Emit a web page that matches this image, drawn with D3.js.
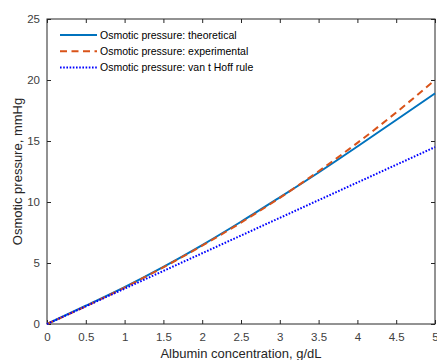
<!DOCTYPE html>
<html>
<head>
<meta charset="utf-8">
<script src="https://cdn.jsdelivr.net/npm/d3@7"></script>
<style>
  body { margin: 0; background: #fff; }
  text { font-family: "Liberation Sans", Arial, sans-serif; }
</style>
</head>
<body>
<div id="chart"></div>
<script>
// albumin concentration, g/dL
const conc = [0, 0.5, 1, 1.5, 2, 2.5, 3, 3.5, 4, 4.5, 5];
// osmotic pressure, mmHg
const theoretical = [0, 1.5, 3.02, 4.68, 6.47, 8.38, 10.38, 12.42, 14.55, 16.72, 18.9];
const experimental = [0, 1.45, 2.99, 4.65, 6.42, 8.31, 10.34, 12.52, 14.85, 17.34, 20.0];
const vantHoff = [0, 1.45, 2.9, 4.35, 5.8, 7.25, 8.7, 10.15, 11.6, 13.05, 14.5];

const xTicks = [0, 0.5, 1, 1.5, 2, 2.5, 3, 3.5, 4, 4.5, 5];
const yTicks = [0, 5, 10, 15, 20, 25];

const series = [
    { name: 'Osmotic pressure: theoretical', values: theoretical, color: '#0072BD', dash: null },
    { name: 'Osmotic pressure: experimental', values: experimental, color: '#D95319', dash: '7,4.5' },
    { name: 'Osmotic pressure: van t Hoff rule', values: vantHoff, color: '#0000FF', dash: '1.6,1.6' }
];

const width = 437, height = 360;
const margin = { top: 19, right: 2, bottom: 36, left: 47 };
const innerW = width - margin.left - margin.right;
const innerH = height - margin.top - margin.bottom;

const svg = d3.select('#chart').append('svg')
    .attr('width', width)
    .attr('height', height);

const g = svg.append('g')
    .attr('transform', `translate(${margin.left},${margin.top})`);

const x = d3.scaleLinear().domain([0, 5]).range([0, innerW]);
const y = d3.scaleLinear().domain([0, 25]).range([innerH, 0]);

const axisColor = '#262626';
const labelColor = '#404040';

// axes (ticks inward, box on)
function styleAxis(sel) {
    sel.select('.domain').remove();
    sel.selectAll('line').attr('stroke', axisColor);
    sel.selectAll('text').attr('fill', labelColor).style('font-size', '11.5px');
}

g.append('g')
    .attr('transform', `translate(0,${innerH})`)
    .call(d3.axisBottom(x).tickValues(xTicks).tickSize(-4).tickPadding(9).tickFormat(d3.format('')))
    .call(styleAxis);

g.append('g')
    .call(d3.axisTop(x).tickValues(xTicks).tickSize(-4).tickFormat(''))
    .call(styleAxis);

g.append('g')
    .call(d3.axisLeft(y).tickValues(yTicks).tickSize(-4).tickPadding(7))
    .call(styleAxis);

g.append('g')
    .attr('transform', `translate(${innerW},0)`)
    .call(d3.axisRight(y).tickValues(yTicks).tickSize(-4).tickFormat(''))
    .call(styleAxis);

g.append('rect')
    .attr('width', innerW)
    .attr('height', innerH)
    .attr('fill', 'none')
    .attr('stroke', axisColor)
    .attr('stroke-width', 1);

// lines
const line = d3.line()
    .x((d, i) => x(conc[i]))
    .y(d => y(d))
    .curve(d3.curveMonotoneX);

g.selectAll('.series')
    .data(series)
    .join('path')
    .attr('class', 'series')
    .attr('d', d => line(d.values))
    .attr('fill', 'none')
    .attr('stroke', d => d.color)
    .attr('stroke-width', 2)
    .attr('stroke-dasharray', d => d.dash);

// legend
const legend = g.append('g')
    .attr('transform', 'translate(13,16)');

const item = legend.selectAll('g')
    .data(series)
    .join('g')
    .attr('transform', (d, i) => `translate(0,${i * 16.3})`);

item.append('line')
    .attr('x1', 0).attr('x2', 37)
    .attr('stroke', d => d.color)
    .attr('stroke-width', 2)
    .attr('stroke-dasharray', d => d.dash);

item.append('text')
    .attr('x', 40)
    .attr('dy', '0.35em')
    .style('font-size', '10.5px')
    .attr('fill', '#000')
    .text(d => d.name);

// axis labels
svg.append('text')
    .attr('x', margin.left + innerW / 2)
    .attr('y', height - 2)
    .attr('text-anchor', 'middle')
    .attr('fill', '#262626')
    .style('font-size', '13px')
    .text('Albumin concentration, g/dL');

svg.append('text')
    .attr('transform', `translate(22,${margin.top + innerH / 2}) rotate(-90)`)
    .attr('text-anchor', 'middle')
    .attr('fill', '#262626')
    .style('font-size', '13px')
    .text('Osmotic pressure, mmHg');
</script>
</body>
</html>
